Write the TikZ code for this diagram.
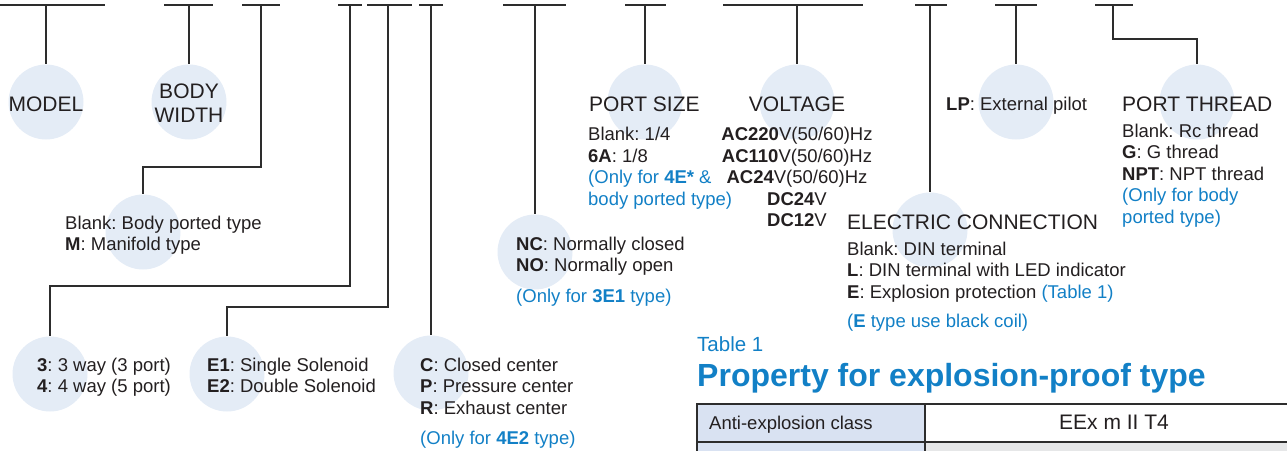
\documentclass[tikz,border=0pt]{standalone}
\usepackage{fontspec}
\setmainfont{Liberation Sans}
\usetikzlibrary{positioning}
\frenchspacing

\definecolor{inkgrey}{RGB}{35,31,32}
\definecolor{linegrey}{RGB}{45,45,45}
\definecolor{bubblefill}{RGB}{228,236,246}
\definecolor{noteblue}{RGB}{18,128,198}
\definecolor{cellblue}{RGB}{217,226,242}
\definecolor{cellgrey}{RGB}{230,231,232}

\tikzset{
  bubble/.style={circle, fill=bubblefill, minimum size=75pt, inner sep=0pt},
  leader/.style={draw=linegrey, line width=1.1pt},
  head/.style={inner sep=0pt, text=inkgrey, font=\fontsize{21}{24}\selectfont},
  spec/.style={inner sep=0pt, text=inkgrey, align=left, anchor=base west, font=\fontsize{18.5}{21.5}\selectfont},
  note/.style={spec, text=noteblue},
  cell/.style={draw=linegrey, line width=1.3pt},
}

\begin{document}
\begin{tikzpicture}[x=1pt, y=-1pt]
    \useasboundingbox (0,0) rectangle (1287,450);
    \clip (0,0) rectangle (1287,450);

    % Bubbles
    \node[bubble] (model) at (46,102) {};
    \node[bubble] (width) at (189,102) {};
    \node[bubble] (port) at (143,232) {};
    \node[bubble] (way) at (50,374) {};
    \node[bubble] (sol) at (227,374) {};
    \node[bubble] (center) at (431,373) {};
    \node[bubble] (nc) at (535,252) {};
    \node[bubble] (size) at (645,102) {};
    \node[bubble] (volt) at (797,102) {};
    \node[bubble] (elec) at (930,230) {};
    \node[bubble] (lp) at (1016,102) {};
    \node[bubble] (thread) at (1197,102) {};

    % Top bars of the code fields
    \coordinate (modelTop) at (46,5);
    \coordinate (widthTop) at (189,5);
    \coordinate (portTop) at (261,5);
    \coordinate (wayTop) at (350,5);
    \coordinate (solTop) at (388,5);
    \coordinate (centerTop) at (431,5);
    \coordinate (ncTop) at (535,5);
    \coordinate (sizeTop) at (645,5);
    \coordinate (voltTop) at (797,5);
    \coordinate (elecTop) at (930,5);
    \coordinate (lpTop) at (1016,5);
    \coordinate (threadTop) at (1113,5);

    \draw[leader] (0,5) -- (105,5);
    \draw[leader] (164,5) -- (213,5);
    \draw[leader] (242,5) -- (280,5);
    \draw[leader] (338,5) -- (362,5);
    \draw[leader] (367,5) -- (412,5);
    \draw[leader] (419,5) -- (443,5);
    \draw[leader] (503,5) -- (566,5);
    \draw[leader] (625,5) -- (666,5);
    \draw[leader] (723,5) -- (863,5);
    \draw[leader] (915,5) -- (947,5);
    \draw[leader] (995,5) -- (1037,5);
    \draw[leader] (1095,5) -- (1133,5);

    % Leaders down to the bubbles
    \draw[leader] (modelTop) -- (model);
    \draw[leader] (widthTop) -- (width);
    \draw[leader] (portTop) -- (261,167) -| (port);
    \draw[leader] (wayTop) -- (350,286) -| (way);
    \draw[leader] (solTop) -- (388,307) -| (sol);
    \draw[leader] (centerTop) -- (center);
    \draw[leader] (ncTop) -- (nc);
    \draw[leader] (sizeTop) -- (size);
    \draw[leader] (voltTop) -- (volt);
    \draw[leader] (elecTop) -- (elec);
    \draw[leader] (lpTop) -- (lp);
    \draw[leader] (threadTop) -- (1113,39) -| (thread);

    % Texts (multi-line nodes sit on their last baseline)
    \node[head, anchor=base] (modelText) at (46,111) {MODEL};
    \node[head, anchor=base, align=center] (widthText) at (189,122) {BODY\\WIDTH};
    \node[spec] (portText) at (65,250.5) {Blank: Body ported type\\\textbf{M}: Manifold type};
    \node[spec] (wayText) at (37,392.5) {\textbf{3}: 3 way (3 port)\\\textbf{4}: 4 way (5 port)};
    \node[spec] (solText) at (207,392.5) {\textbf{E1}: Single Solenoid\\\textbf{E2}: Double Solenoid};
    \node[spec] (centerText) at (420,414) {\textbf{C}: Closed center\\\textbf{P}: Pressure center\\\textbf{R}: Exhaust center};
    \node[note] (centerNote) at (420,444) {(Only for \textbf{4E2} type)};
    \node[spec] (ncText) at (516,271.5) {\textbf{NC}: Normally closed\\\textbf{NO}: Normally open};
    \node[note] (ncNote) at (516,302) {(Only for \textbf{3E1} type)};
    \node[head, anchor=base west] (sizeHead) at (589,111) {PORT SIZE};
    \node[spec] (sizeText) at (588,205) {Blank: 1/4\\\textbf{6A}: 1/8\\\textcolor{noteblue}{(Only for \textbf{4E*} \&}\\\textcolor{noteblue}{body ported type)}};
    \node[head, anchor=base] (voltHead) at (797,111) {VOLTAGE};
    \node[spec, align=center, anchor=base] (voltText) at (797,226.5) {\textbf{AC220}V(50/60)Hz\\\textbf{AC110}V(50/60)Hz\\\textbf{AC24}V(50/60)Hz\\\textbf{DC24}V\\\textbf{DC12}V};
    \node[spec] (lpText) at (946,110) {\textbf{LP}: External pilot};
    \node[head, anchor=base west] (threadHead) at (1122,111) {PORT THREAD};
    \node[spec] (threadText) at (1122,223) {Blank: Rc thread\\\textbf{G}: G thread\\\textbf{NPT}: NPT thread\\\textcolor{noteblue}{(Only for body}\\\textcolor{noteblue}{ported type)}};
    \node[head, anchor=base west] (elecHead) at (847,229) {ELECTRIC CONNECTION};
    \node[spec] (elecText) at (847,298) {Blank: DIN terminal\\\textbf{L}: DIN terminal with LED indicator\\\textbf{E}: Explosion protection \textcolor{noteblue}{(Table 1)}};
    \node[note] (coilNote) at (847,327) {(\textbf{E} type use black coil)};

    % Table 1
    \node[note, font=\fontsize{20.5}{24}\selectfont] (tableNo) at (697,351) {Table 1};
    \node[note, font=\fontsize{32}{36}\selectfont\bfseries] (tableTitle) at (697,386) {Property for explosion-proof type};
    \filldraw[cell, fill=cellblue] (697,404) rectangle (925,442);
    \filldraw[cell, fill=white] (925,404) rectangle (1300,442);
    \filldraw[cell, fill=cellblue] (697,442) rectangle (925,480);
    \filldraw[cell, fill=cellgrey] (925,442) rectangle (1300,480);
    \node[spec] (classText) at (709,429) {Anti-explosion class};
    \node[spec, anchor=base, font=\fontsize{21}{24}\selectfont] (classValue) at (1114,429) {EEx m II T4};
\end{tikzpicture}
\end{document}
